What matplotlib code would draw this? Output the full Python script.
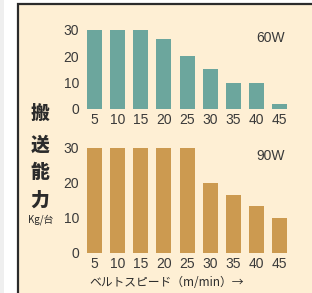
import numpy as np
import matplotlib.pyplot as plt
from matplotlib.patches import Rectangle

# ---- data ----
speeds = ["5", "10", "15", "20", "25", "30", "35", "40", "45"]
cap_60w = [30, 30, 30, 26.5, 20, 15, 10, 10, 2]
cap_90w = [30, 30, 30, 30, 30, 20, 16.5, 13.5, 10]
yticks = [0, 10, 20, 30]

W, H = 312, 293
BG = "#feefd4"
TEAL = "#6ca69d"
TAN = "#cc9a50"
TXT = "#3a3a3a"

plt.rcParams["font.family"] = ["Liberation Sans", "Noto Sans CJK JP", "DejaVu Sans"]

fig = plt.figure(figsize=(W / 100, H / 100), dpi=100)
fig.patch.set_facecolor("white")


def px(x0, y0, x1, y1):
    # pixel box -> figure fraction [left, bottom, width, height]
    return [x0 / W, 1 - y1 / H, (x1 - x0) / W, (y1 - y0) / H]


# background frame
fig.patches.append(Rectangle((0, 0), 4 / W, 1, transform=fig.transFigure,
                             facecolor="#efefef", edgecolor="none", zorder=-5))
fig.patches.append(Rectangle((18 / W, -0.01), 1, 1 - 4 / H + 0.01, transform=fig.transFigure,
                             facecolor=BG, edgecolor="#2b2b2b", linewidth=1.6, zorder=-5))


def draw_panel(box, vals, color, label, ylim_top, label_y):
    ax = fig.add_axes(px(*box))
    x = np.arange(len(speeds))
    ax.bar(x, vals, width=0.65, color=color)
    ax.set_xlim(-0.55, len(speeds) - 0.45)
    ax.set_ylim(0, ylim_top)
    ax.set_xticks(x, speeds)
    ax.set_yticks(yticks)
    ax.patch.set_alpha(0)
    for s in ax.spines.values():
        s.set_visible(False)
    ax.tick_params(length=0, labelsize=10, colors=TXT, pad=3)
    ax.tick_params(axis="y", pad=2)
    ax.text(0.965, label_y, label, transform=ax.transAxes, ha="right", va="center",
            fontsize=10, color=TXT)
    return ax


draw_panel((82, 22, 292, 109), cap_60w, TEAL, "60W", 33, 0.82)
draw_panel((82, 137, 292, 253), cap_90w, TAN, "90W", 33, 0.84)

# y-axis title (vertical Japanese)
for ch, y in zip("搬送能力", [113, 145, 172, 200]):
    fig.text(40 / W, 1 - y / H, ch, ha="center", va="center", fontsize=13.5,
             fontweight="heavy", color="#2b2b2b", family=["Noto Sans CJK JP"])
fig.text(41 / W, 1 - 220 / H, "Kg/台", ha="center", va="center", fontsize=7,
         color="#2b2b2b", family=["Noto Sans CJK JP"])

fig.text(167 / W, 1 - 283 / H, "ベルトスピード（m/min）→", ha="center", va="center",
         fontsize=8.5, color="#2b2b2b", family=["Noto Sans CJK JP", "DejaVu Sans"])

fig.savefig("out.png", dpi=100, facecolor=fig.get_facecolor())
